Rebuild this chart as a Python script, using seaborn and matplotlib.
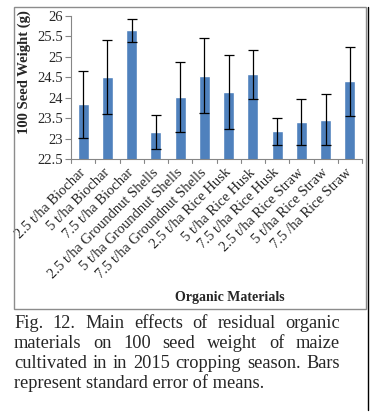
import matplotlib
matplotlib.use("Agg")
import matplotlib.pyplot as plt
import seaborn as sns
import pandas as pd
import numpy as np
from matplotlib.patches import Rectangle
from matplotlib.lines import Line2D

categories = ["2.5 t/ha Biochar", "5 t/ha Biochar", "7.5 t/ha Biochar",
              "2.5 t/ha Groundnut Shells", "5 t/ha Groundnut Shells", "7.5 t/ha Groundnut Shells",
              "2.5 t/ha Rice Husk", "5 t/ha Rice Husk", "7.5 t/ha Rice Husk",
              "2.5 t/ha Rice Straw", "5 t/ha Rice Straw", "7.5 /ha Rice Straw"]
values = [23.84, 24.50, 25.64, 23.16, 24.02, 24.54, 24.15, 24.57, 23.18, 23.40, 23.47, 24.40]
se = [0.82, 0.90, 0.28, 0.42, 0.85, 0.91, 0.90, 0.60, 0.32, 0.56, 0.63, 0.84]
yticks = [22.5, 23, 23.5, 24, 24.5, 25, 25.5, 26]
ytick_labels = ["22.5", "23", "23.5", "24", "24.5", "25", "25.5", "26"]
caption_lines = ["Fig. 12. Main effects of residual organic",
                 "materials on 100 seed weight of maize",
                 "cultivated in in 2015 cropping season. Bars",
                 "represent standard error of means."]

sns.set_theme(style="white")
plt.rcParams['font.family'] = ['Liberation Serif', 'DejaVu Serif']

W, H = 378, 416
fig = plt.figure(figsize=(W/100, H/100), dpi=100)
ax = fig.add_axes([71/W, 1-159.3/H, (362-71)/W, (159.3-15.7)/H])

df = pd.DataFrame({"cat": categories, "val": values})
sns.barplot(data=df, x="cat", y="val", color="#4F81BD", saturation=1, width=0.45,
            errorbar=None, ax=ax)
ax.errorbar(np.arange(len(values)), values, yerr=se, fmt="none", ecolor="black",
            elinewidth=0.9, capsize=3.5, capthick=0.9)

ax.set_ylim(22.5, 26)
ax.set_xlim(-0.5, len(values)-0.5)
ax.set_yticks(yticks)
ax.set_yticklabels(ytick_labels, fontsize=10.5)
ax.set_xticks(np.arange(len(values)))
ax.set_xticklabels(categories, rotation=45, ha='right', va='center',
                   rotation_mode='anchor', fontsize=10.5)
ax.tick_params(axis='x', length=0, pad=8)
ax.tick_params(axis='y', length=4, color='#868686', width=0.8, direction='out', left=True, pad=2)
for b in np.arange(-0.5, len(values), 1.0):
    ax.add_line(Line2D([b, b], [0, -0.028], transform=ax.get_xaxis_transform(),
                       color='#868686', lw=0.8, clip_on=False))
for s in ['top', 'right']:
    ax.spines[s].set_visible(False)
for s in ['left', 'bottom']:
    ax.spines[s].set_color('#868686')
    ax.spines[s].set_linewidth(0.8)
ax.set_xlabel("")
ax.set_ylabel("100 Seed Weight (g)", fontsize=10.5, fontweight='bold')
ax.yaxis.set_label_coords(-40/291, (159.3-72.5)/143.6)

fig.text(230/W, 1-298/H, "Organic Materials", ha='center', va='center',
         fontsize=10, fontweight='bold')

# frame
fig.add_artist(Rectangle((14/W, 1-309/H), (366-14)/W, (309-7)/H, transform=fig.transFigure,
                         fill=False, edgecolor='#8c8c8c', lw=1.0))
fig.add_artist(Line2D([368/W, 368/W], [1-7/H, 1-410/H], transform=fig.transFigure,
                      color='black', lw=1.0))

# caption, justified
renderer = fig.canvas.get_renderer()
x0, x1 = 14, 340
ys = [328, 348, 368, 388]
fs = 13.2
for i, (line, yb) in enumerate(zip(caption_lines, ys)):
    words = line.split(" ")
    if i == len(caption_lines) - 1:
        fig.text(x0/W, 1-yb/H, line, ha='left', va='baseline', fontsize=fs)
        continue
    arts = [fig.text(0, 1-yb/H, w, ha='left', va='baseline', fontsize=fs) for w in words]
    widths = [a.get_window_extent(renderer).width for a in arts]
    gap = ((x1 - x0) - sum(widths)) / (len(words) - 1)
    x = x0
    for a, wdt in zip(arts, widths):
        a.set_x(x/W)
        x += wdt + gap

fig.savefig("out.png", dpi=100)
